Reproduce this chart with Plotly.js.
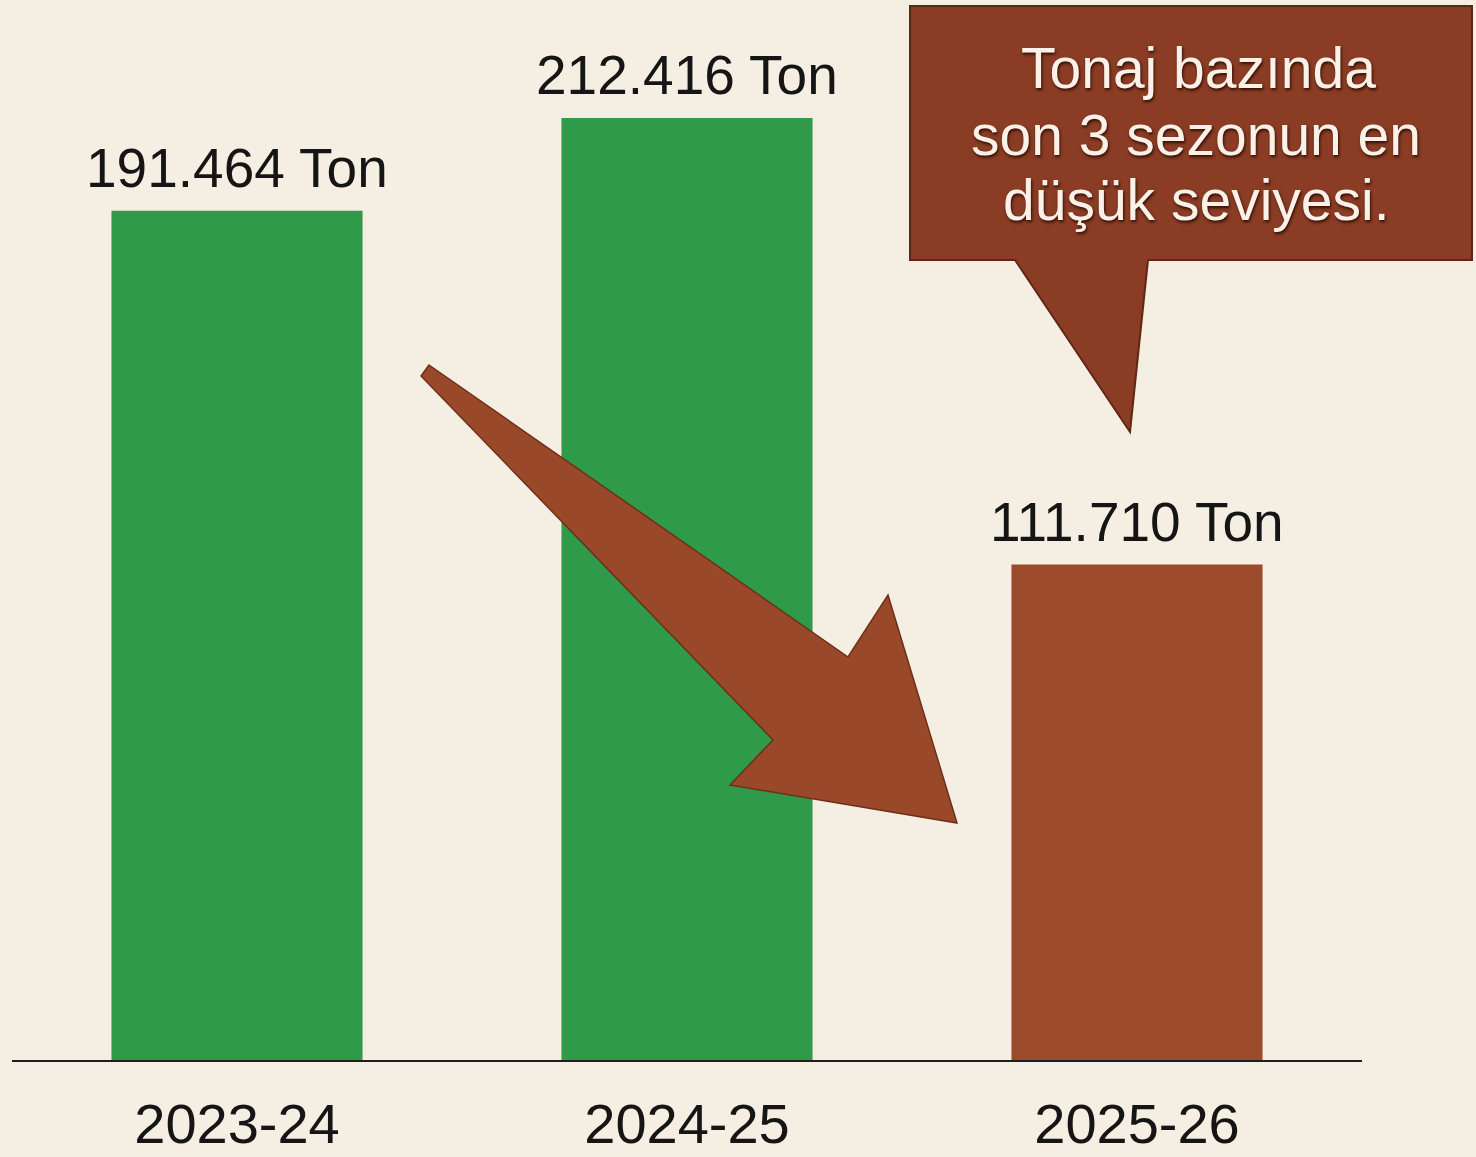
<!DOCTYPE html>
<html>
<head>
<meta charset="utf-8">
<script src="https://cdn.plot.ly/plotly-3.0.1.min.js"></script>
<style>
  html, body { margin: 0; padding: 0; background: #f5efe3; }
  #chart { width: 1476px; height: 1157px; }
</style>
</head>
<body>
<div id="chart"></div>
<script>
// ---- data ----
const seasons = ["2023-24", "2024-25", "2025-26"];
const tonnage = [191464, 212416, 111710];
const valueLabels = ["191.464 Ton", "212.416 Ton", "111.710 Ton"];
const calloutLines = ["Tonaj bazında", "son 3 sezonun en", "düşük seviyesi."];

// ---- styling ----
const W = 1476, H = 1157;
const M = { l: 12, r: 114, t: 0, b: 97 };
const PW = W - M.l - M.r, PH = H - M.t - M.b;
const GREEN = "#2f9a4a", BROWN = "#9b4a2b";
const barColors = ["#2f9a4a", "#2f9a4a", "#9b4a2b"];

// helpers for decorative shapes (pixel -> paper)
const px = x => (x - M.l) / PW;
const py = y => (H - M.b - y) / PH;
function path(pts) {
  return "M " + pts.map(p => px(p[0]).toFixed(5) + "," + py(p[1]).toFixed(5)).join(" L ") + " Z";
}

const trace = {
  type: "bar",
  x: seasons,
  y: tonnage,
  marker: { color: barColors, line: { width: 0 } },
  width: 0.558,
  hoverinfo: "skip"
};

const annotations = seasons.map((s, i) => ({
  x: s, y: tonnage[i], xref: "x", yref: "y",
  text: valueLabels[i], showarrow: false,
  yanchor: "bottom", yshift: 10,
  font: { family: "Liberation Sans, Arial, sans-serif", size: 55, color: "#151515" }
}));

const calloutPos = [[1198, 68], [1196, 135], [1196, 200]];
calloutLines.forEach((t, i) => {
  annotations.push({
    x: px(calloutPos[i][0]), y: py(calloutPos[i][1]), xref: "paper", yref: "paper",
    text: t, showarrow: false, xanchor: "center", yanchor: "middle",
    font: { family: "Liberation Sans, Arial, sans-serif", size: 57, color: "#fbf1e8",
            shadow: "1px 2px 3px rgba(40,10,0,0.9)" }
  });
});

const shapes = [
  // callout box with tail
  {
    type: "path", xref: "paper", yref: "paper", layer: "above",
    path: path([[910, 6], [1472, 6], [1472, 260], [1148, 260], [1130, 432], [1015, 260], [910, 260]]),
    fillcolor: "#8a3c24", line: { color: "#5e2715", width: 2 }
  },
  // big downward arrow
  {
    type: "path", xref: "paper", yref: "paper", layer: "above",
    path: path([[429, 365], [848, 657], [888, 595], [957, 823], [730, 785], [773, 740], [421, 376]]),
    fillcolor: "#9a482a", line: { color: "#6e2f18", width: 1.5 }
  }
];

const layout = {
  width: W, height: H,
  margin: M,
  paper_bgcolor: "#f5efe3",
  plot_bgcolor: "#f5efe3",
  showlegend: false,
  xaxis: {
    type: "category",
    range: [-0.5, 2.5],
    showline: true, linecolor: "#1e1e1e", linewidth: 2,
    showgrid: false, zeroline: false, ticks: "",
    tickfont: { family: "Liberation Sans, Arial, sans-serif", size: 56, color: "#151515" },
    ticklabelstandoff: 14,
    fixedrange: true
  },
  yaxis: {
    range: [0, 239000],
    visible: false, showgrid: false, zeroline: false, fixedrange: true
  },
  annotations: annotations,
  shapes: shapes
};

Plotly.newPlot("chart", [trace], layout, { displayModeBar: false, staticPlot: true });
</script>
</body>
</html>
